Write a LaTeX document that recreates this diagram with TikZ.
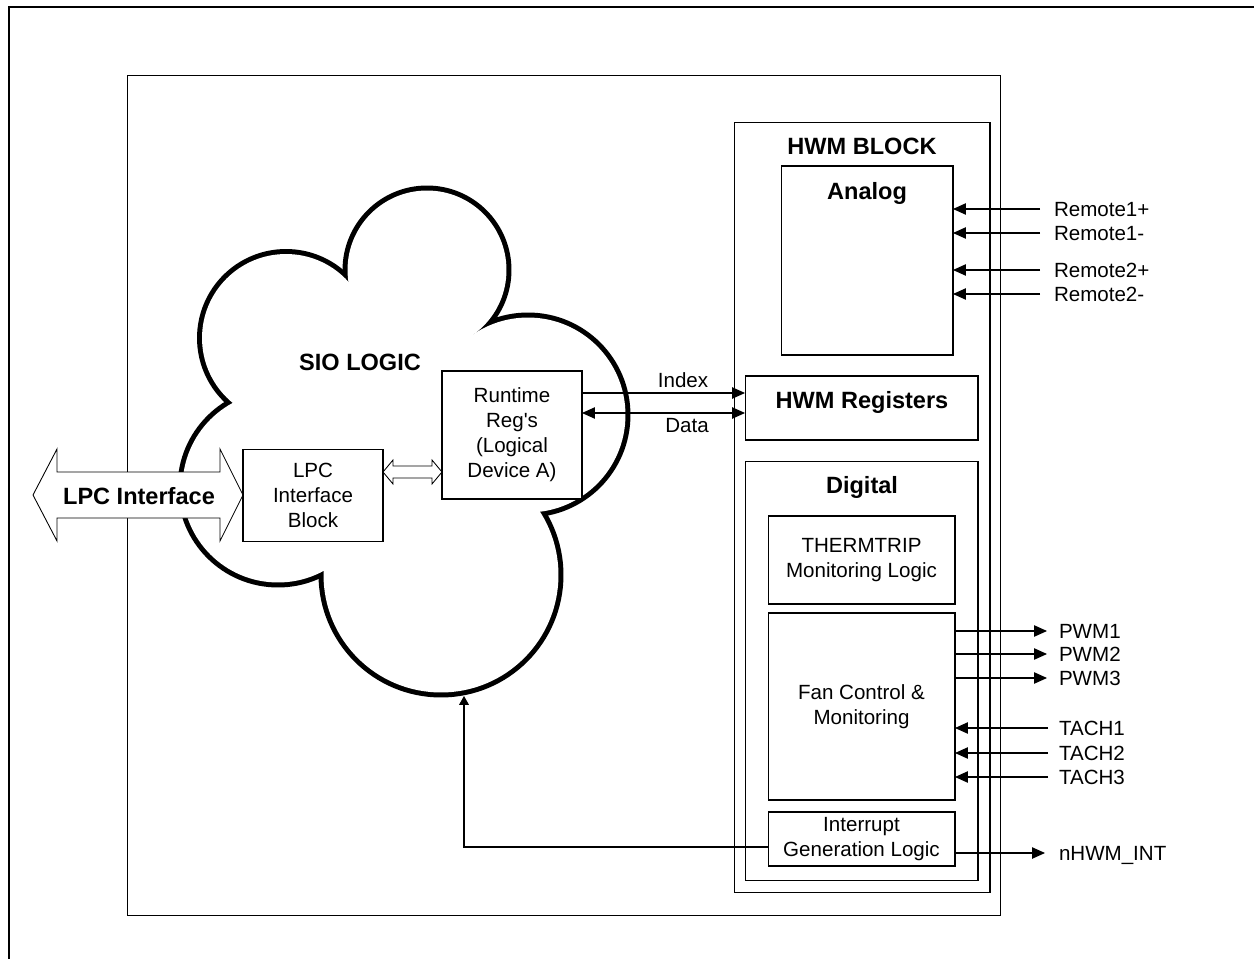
\documentclass[tikz,border=0pt]{standalone}
\usepackage{fontspec}
\setmainfont{Liberation Sans}
\newfontfamily\plainsans{Liberation Sans}[Ligatures=TeXOff]
\usetikzlibrary{arrows.meta}
\begin{document}
\begin{tikzpicture}[x=0.02cm,y=-0.02cm,
  every node/.style={inner sep=0pt, outer sep=0pt},
  box/.style={draw, line width=0.6pt, fill=white},
  txt/.style={font=\fontsize{11.7}{14.2}\selectfont, align=center},
  hd/.style={font=\fontsize{13.4}{16}\selectfont\bfseries},
  sig/.style={font=\fontsize{11.7}{14.2}\selectfont, anchor=west, text height=8.4pt, text depth=0pt},
  tri/.style={-{Triangle[length=7.4pt,width=6.5pt]}},
  dtri/.style={{Triangle[length=7.4pt,width=6.5pt]}-{Triangle[length=7.4pt,width=6.5pt]}},
  wire/.style={line width=0.6pt}]
\useasboundingbox (0,0) rectangle (1254,959);
% page frame (top and left edges)
\draw[line width=1.4pt] (9,959) -- (9,7) -- (1254,7);
% main box
\node[draw, line width=0.6pt, minimum width=17.48cm, minimum height=16.82cm] (mainbox) at (564,495.5) {};
% SIO cloud (union of circles)
\foreach \cx/\cy/\r in {427/270/1.59, 286/338/1.68, 278/487/1.91, 441/575/2.35, 528/415/1.95}
  \draw[line width=0.2cm] (\cx,\cy) circle[radius=\r cm];
\foreach \cx/\cy/\r in {427/270/1.59, 286/338/1.68, 278/487/1.91, 441/575/2.35, 528/415/1.95}
  \fill[white] (\cx,\cy) circle[radius=\r cm];
\fill[white] (427,270) -- (528,415) -- (441,575) -- (278,487) -- (286,338) -- cycle;
\node[hd] (sio) at (360,362) {SIO LOGIC};
% LPC interface big arrow
\draw[line width=0.5pt, fill=white] (33,495) -- (57,449) -- (57,472) -- (220,472) -- (220,449) -- (243,495) -- (220,541) -- (220,518) -- (57,518) -- (57,541) -- cycle;
\node[hd] (lpci) at (139,496) {LPC Interface};
% SIO inner blocks
\node[box, txt, minimum width=2.8cm, minimum height=1.84cm] (lpc) at (313,495.5) {LPC\\Interface\\Block};
\node[box, txt, minimum width=2.8cm, minimum height=2.56cm] (rt) at (512,435) {Runtime\\{\plainsans Reg's}\\(Logical\\Device A)};
\draw[line width=0.5pt, fill=white] (383,472) -- (393,460) -- (393,466) -- (432,466) -- (432,460) -- (442,472) -- (432,484) -- (432,478) -- (393,478) -- (393,484) -- cycle;
% HWM block
\node[box, minimum width=5.12cm, minimum height=15.42cm] (hwm) at (862,507.5) {};
\node[hd] (hwmt) at (862,146) {HWM BLOCK};
\node[box, minimum width=3.44cm, minimum height=3.78cm] (analog) at (867,260.5) {};
\node[hd] (analogt) at (867,193) {Analog};
\node[box, minimum width=4.66cm, minimum height=1.28cm] (reg) at (861.5,408) {};
\node[hd] (regt) at (862,402) {HWM Registers};
\node[box, minimum width=4.66cm, minimum height=8.4cm] (dig) at (861.5,671) {};
\node[hd] (digt) at (862,487) {Digital};
\node[box, txt, minimum width=3.74cm, minimum height=1.76cm] (therm) at (861.5,560) {THERMTRIP\\Monitoring Logic};
\node[box, txt, minimum width=3.74cm, minimum height=3.74cm] (fan) at (861.5,706.5) {Fan Control \&\\Monitoring};
\node[box, txt, minimum width=3.74cm, minimum height=1.08cm] (intr) at (861.5,839) {Interrupt\\Generation Logic};
% Index / Data
\coordinate (yi) at (0,393);
\coordinate (yd) at (0,413);
\draw[wire,tri] (rt.east |- yi) -- (reg.west |- yi);
\draw[wire,dtri] (rt.east |- yd) -- (reg.west |- yd);
\node[txt] (idx) at (683,380) {Index};
\node[txt] (dat) at (687,426) {Data};
% signal labels
\node[sig] (r1) at (1054,209) {Remote1+};
\node[sig] (r2) at (1054,233) {Remote1-};
\node[sig] (r3) at (1054,270) {Remote2+};
\node[sig] (r4) at (1054,294) {Remote2-};
\node[sig] (p1) at (1059,631) {PWM1};
\node[sig] (p2) at (1059,654) {PWM2};
\node[sig] (p3) at (1059,678) {PWM3};
\node[sig] (t1) at (1059,728) {TACH1};
\node[sig] (t2) at (1059,753) {TACH2};
\node[sig] (t3) at (1059,777) {TACH3};
\node[sig] (ni) at (1059,853) {nHWM\_INT};
\foreach \s in {r1,r2,r3,r4}
  \draw[wire,tri] ([xshift=-0.28cm]\s.west) -- (analog.east |- \s.west);
\foreach \s in {p1,p2,p3}
  \draw[wire,tri] (fan.east |- \s.west) -- ([xshift=-0.24cm]\s.west);
\foreach \s in {t1,t2,t3}
  \draw[wire,tri] ([xshift=-0.22cm]\s.west) -- (fan.east |- \s.west);
\draw[wire,tri] (intr.east |- ni.west) -- ([xshift=-0.28cm]ni.west);
% interrupt to SIO
\coordinate (iy) at (0,847);
\coordinate (cb) at (464,696);
\draw[wire,-{Triangle[length=5pt,width=5.5pt]}] (intr.west |- iy) -| (cb);
\end{tikzpicture}
\end{document}
